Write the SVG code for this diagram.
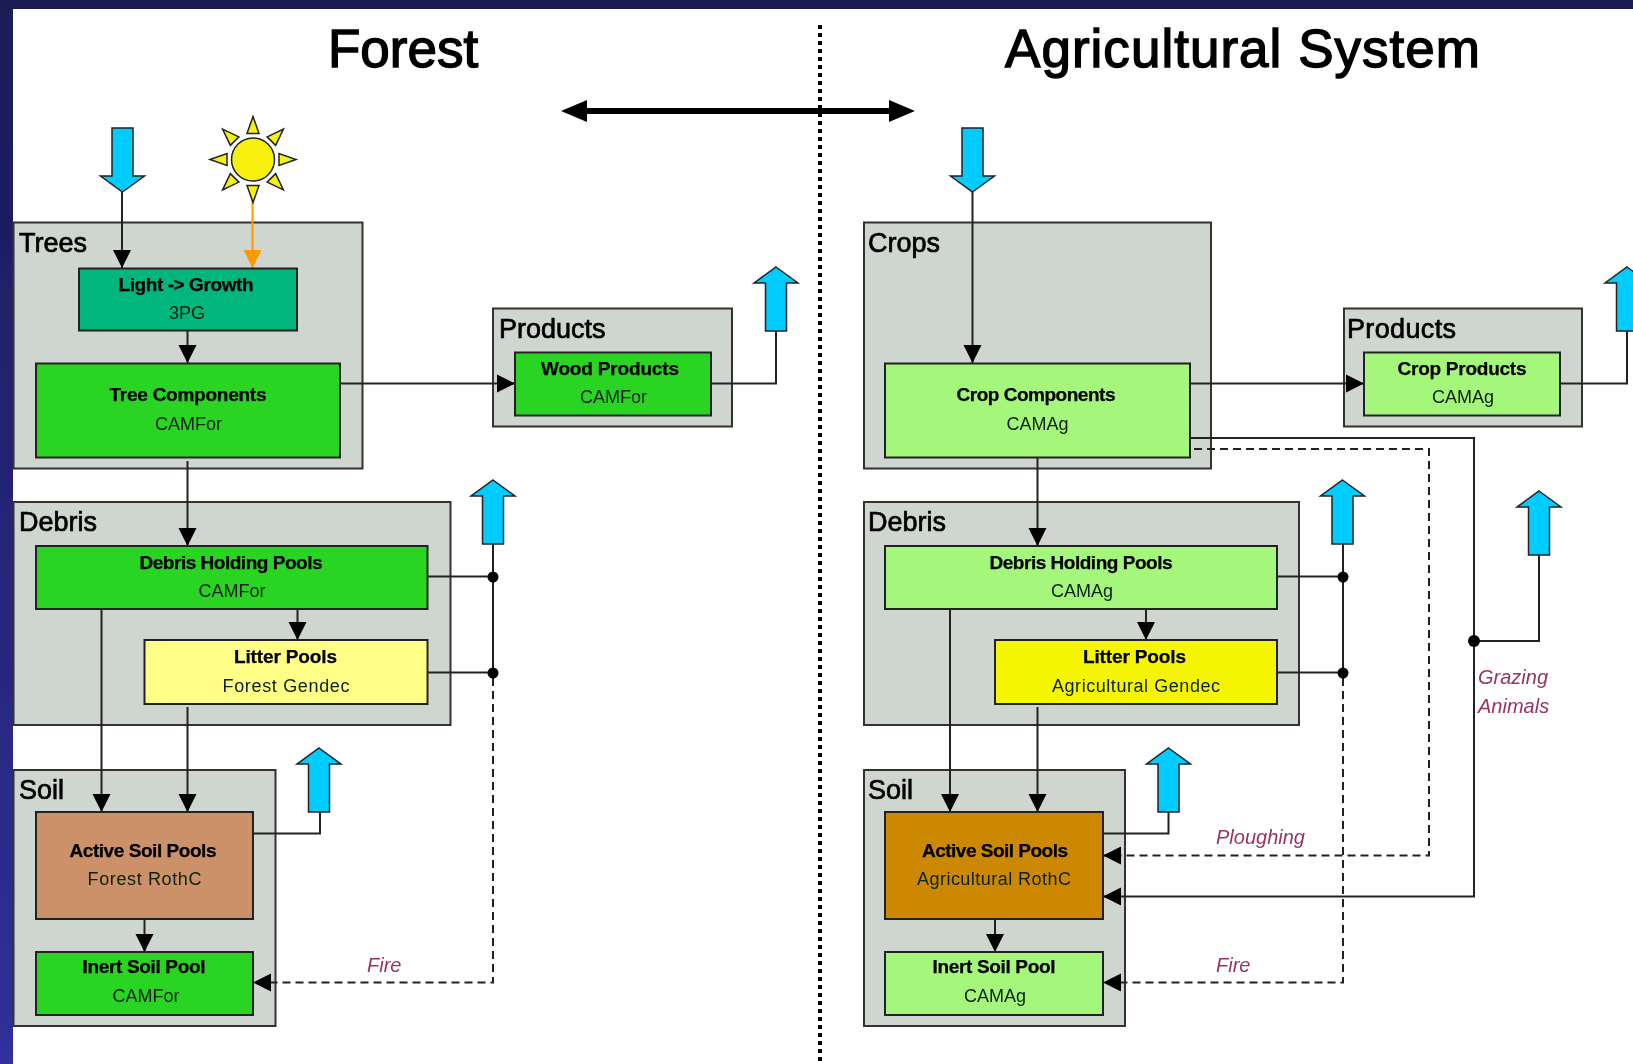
<svg xmlns="http://www.w3.org/2000/svg" width="1633" height="1064" viewBox="0 0 1633 1064">
<style>
text{font-family:"Liberation Sans",Arial,sans-serif;fill:#000}
.title{font-size:53px;stroke:#000;stroke-width:1.4px}
.head{font-size:27px;stroke:#000;stroke-width:.7px}
.b{font-size:19px;font-weight:bold;text-anchor:middle;stroke:#000;stroke-width:.25px}
.r{font-size:18px;text-anchor:middle;fill:#0a200a}
.lab{font-size:20px;font-style:italic;fill:#993366}
.grp{fill:#cfd5cf;stroke:#333;stroke-width:2}
.box{stroke:#222;stroke-width:2}
.line{fill:none;stroke:#222;stroke-width:2}
.dash{fill:none;stroke:#222;stroke-width:2;stroke-dasharray:8 5}
.blue{fill:#00ccff;stroke:#222;stroke-width:1.500}
.ray{fill:#f8f010;stroke:#222;stroke-width:1.500}
.dot{fill:#000}
.green{fill:#2ad424}.lgreen{fill:#a4f77a}
</style>
<defs>
<filter id="soft" x="0" y="0" width="100%" height="100%"><feGaussianBlur stdDeviation="0.5"/></filter>
<marker id="ah" markerUnits="userSpaceOnUse" markerWidth="20" markerHeight="20" refX="18" refY="10" orient="auto"><path d="M0 1L18 10L0 19Z" fill="#000"/></marker>
<marker id="ao" markerUnits="userSpaceOnUse" markerWidth="20" markerHeight="20" refX="18" refY="10" orient="auto"><path d="M0 1L18 10L0 19Z" fill="#ff9900"/></marker>
<path id="up" class="blue" d="M0 0L22 16H10.500V64H-10.500V16H-22Z"/>
<path id="ray" class="ray" d="M0 -43L6 -26H-6Z"/>
<linearGradient id="side" x1="0" y1="0" x2="0" y2="1"><stop offset="0" stop-color="#1a1a55"/><stop offset="1" stop-color="#30309a"/></linearGradient>
</defs>
<g filter="url(#soft)">
<rect width="1633" height="1064" fill="#fff"/>
<rect width="13" height="1064" fill="url(#side)"/>
<rect width="1633" height="9" fill="#1a1a55"/>
<text class="title" x="328" y="67">Forest</text>
<text class="title" x="1005" y="67" textLength="475">Agricultural System</text>
<path d="M820 25V1064" fill="none" stroke="#000" stroke-width="4" stroke-dasharray="4 4"/>
<path d="M575 111H900" stroke="#000" stroke-width="6" fill="none"/>
<path d="M561 111L587 100V122ZM915 111L889 100V122Z" fill="#000"/>

<g id="trees"><rect class="grp" x="13.500" y="222.500" width="349" height="246"/><text class="head" x="19" y="252">Trees</text></g>
<g id="forest-products"><rect class="grp" x="493" y="308.500" width="239" height="118"/><text class="head" x="499" y="338">Products</text></g>
<g id="forest-debris"><rect class="grp" x="13.500" y="502" width="437" height="223"/><text class="head" x="19" y="531">Debris</text></g>
<g id="forest-soil"><rect class="grp" x="13.500" y="770" width="262" height="256"/><text class="head" x="19" y="799">Soil</text></g>
<g id="crops"><rect class="grp" x="864" y="222.500" width="347" height="246"/><text class="head" x="868" y="252">Crops</text></g>
<g id="ag-products"><rect class="grp" x="1344" y="308.500" width="238" height="118"/><text class="head" x="1347" y="338" textLength="109">Products</text></g>
<g id="ag-debris"><rect class="grp" x="864" y="502" width="435" height="223"/><text class="head" x="868" y="531">Debris</text></g>
<g id="ag-soil"><rect class="grp" x="864" y="770" width="261" height="256"/><text class="head" x="868" y="799">Soil</text></g>

<g id="connectors">
<path class="line" d="M122 192V268" marker-end="url(#ah)"/>
<path d="M252.500 200V268" fill="none" stroke="#ff9900" stroke-width="2" marker-end="url(#ao)"/>
<path class="line" d="M187.500 330V363" marker-end="url(#ah)"/>
<path class="line" d="M340 383.500H515" marker-end="url(#ah)"/>
<path class="line" d="M711 383.500H776V331"/>
<path class="line" d="M187.500 461V546" marker-end="url(#ah)"/>
<path class="line" d="M297.500 609V640" marker-end="url(#ah)"/>
<path class="line" d="M101.500 609V812" marker-end="url(#ah)"/>
<path class="line" d="M187.500 707V812" marker-end="url(#ah)"/>
<path class="line" d="M427.500 576.500H493M427.500 672.500H493M493 544V673"/>
<path class="line" d="M253 833.500H320V811"/>
<path class="line" d="M144.500 919V952" marker-end="url(#ah)"/>
<path class="dash" d="M493 678V982.500H253" marker-end="url(#ah)"/>

<path class="line" d="M972.500 192V363" marker-end="url(#ah)"/>
<path class="line" d="M1190 383.500H1364" marker-end="url(#ah)"/>
<path class="line" d="M1560 383.500H1627V331"/>
<path class="line" d="M1037.500 457V546" marker-end="url(#ah)"/>
<path class="line" d="M1146 609V640" marker-end="url(#ah)"/>
<path class="line" d="M950 609V812" marker-end="url(#ah)"/>
<path class="line" d="M1037.500 707V812" marker-end="url(#ah)"/>
<path class="line" d="M1277 576.500H1343M1277 672.500H1343M1343 544V673"/>
<path class="line" d="M1103 833.500H1168.500V811"/>
<path class="line" d="M995 919V952" marker-end="url(#ah)"/>
<path class="dash" d="M1343 678V982.500H1103" marker-end="url(#ah)"/>
<path class="line" d="M1190 438H1474V896.500H1103" marker-end="url(#ah)"/>
<path class="dash" d="M1194 449H1429V855.500H1103" marker-end="url(#ah)"/>
<path class="line" d="M1474 641H1539V554"/>
<circle class="dot" cx="493" cy="577" r="5.500"/><circle class="dot" cx="493" cy="673" r="5.500"/>
<circle class="dot" cx="1343" cy="577" r="5.500"/><circle class="dot" cx="1343" cy="673" r="5.500"/>
<circle class="dot" cx="1474" cy="641" r="6"/>
<use href="#up" transform="translate(122.500 192) scale(1 -1)"/>
<use href="#up" transform="translate(972.500 192) scale(1 -1)"/>
<use href="#up" transform="translate(776 267)"/>
<use href="#up" transform="translate(1627 267)"/>
<use href="#up" transform="translate(493 480)"/>
<use href="#up" transform="translate(1342.500 480)"/>
<use href="#up" transform="translate(319 748)"/>
<use href="#up" transform="translate(1168.500 748)"/>
<use href="#up" transform="translate(1539 491)"/>
</g>

<g id="sun" transform="translate(253 159.500)">
<circle class="ray" r="21.500"/>
<use href="#ray"/><use href="#ray" transform="rotate(45)"/><use href="#ray" transform="rotate(90)"/><use href="#ray" transform="rotate(135)"/><use href="#ray" transform="rotate(180)"/><use href="#ray" transform="rotate(225)"/><use href="#ray" transform="rotate(270)"/><use href="#ray" transform="rotate(315)"/>
</g>

<g id="light-growth"><rect class="box" x="79" y="268.500" width="218" height="62" fill="#00b67d"/><text class="b" x="186" y="291" textLength="135">Light -&gt; Growth</text><text class="r" x="187" y="319">3PG</text></g>
<g id="tree-components"><rect class="box green" x="36" y="363.500" width="304" height="94"/><text class="b" x="188" y="401" textLength="157">Tree Components</text><text class="r" x="188.500" y="430">CAMFor</text></g>
<g id="wood-products"><rect class="box green" x="515" y="352.500" width="196" height="63"/><text class="b" x="610" y="375" textLength="138">Wood Products</text><text class="r" x="613.500" y="403">CAMFor</text></g>
<g id="forest-holding"><rect class="box green" x="36" y="546" width="391.500" height="63"/><text class="b" x="231" y="569" textLength="183">Debris Holding Pools</text><text class="r" x="232" y="597">CAMFor</text></g>
<g id="forest-litter"><rect class="box" x="144.500" y="640" width="283" height="64" fill="#ffff88"/><text class="b" x="285.500" y="663" textLength="103">Litter Pools</text><text class="r" x="286" y="692" textLength="127">Forest Gendec</text></g>
<g id="forest-active"><rect class="box" x="36" y="812" width="217" height="107" fill="#cc9168"/><text class="b" x="143" y="857" textLength="147">Active Soil Pools</text><text class="r" x="144.500" y="885" textLength="114">Forest RothC</text></g>
<g id="forest-inert"><rect class="box green" x="36" y="952" width="217" height="63"/><text class="b" x="144" y="973" textLength="123">Inert Soil Pool</text><text class="r" x="146" y="1002">CAMFor</text></g>

<g id="crop-components"><rect class="box lgreen" x="885" y="363.500" width="305" height="94"/><text class="b" x="1036" y="401" textLength="159">Crop Components</text><text class="r" x="1037.500" y="430">CAMAg</text></g>
<g id="crop-products"><rect class="box lgreen" x="1364" y="352.500" width="196" height="63"/><text class="b" x="1462" y="375" textLength="129">Crop Products</text><text class="r" x="1463" y="403">CAMAg</text></g>
<g id="ag-holding"><rect class="box lgreen" x="885" y="546" width="392" height="63"/><text class="b" x="1081" y="569" textLength="183">Debris Holding Pools</text><text class="r" x="1082" y="597">CAMAg</text></g>
<g id="ag-litter"><rect class="box" x="995" y="640" width="282" height="64" fill="#f5f500"/><text class="b" x="1134.500" y="663" textLength="103">Litter Pools</text><text class="r" x="1136" y="692" textLength="168">Agricultural Gendec</text></g>
<g id="ag-active"><rect class="box" x="885" y="812" width="218" height="107" fill="#cc8800"/><text class="b" x="995" y="857" textLength="146">Active Soil Pools</text><text class="r" x="994" y="885" textLength="154">Agricultural RothC</text></g>
<g id="ag-inert"><rect class="box lgreen" x="885" y="952" width="218" height="63"/><text class="b" x="994" y="973" textLength="123">Inert Soil Pool</text><text class="r" x="995" y="1002">CAMAg</text></g>

<text class="lab" x="367" y="972">Fire</text>
<text class="lab" x="1216" y="972">Fire</text>
<text class="lab" x="1216" y="844">Ploughing</text>
<text class="lab" x="1478" y="684">Grazing</text>
<text class="lab" x="1478" y="713">Animals</text>
</g>
</svg>
